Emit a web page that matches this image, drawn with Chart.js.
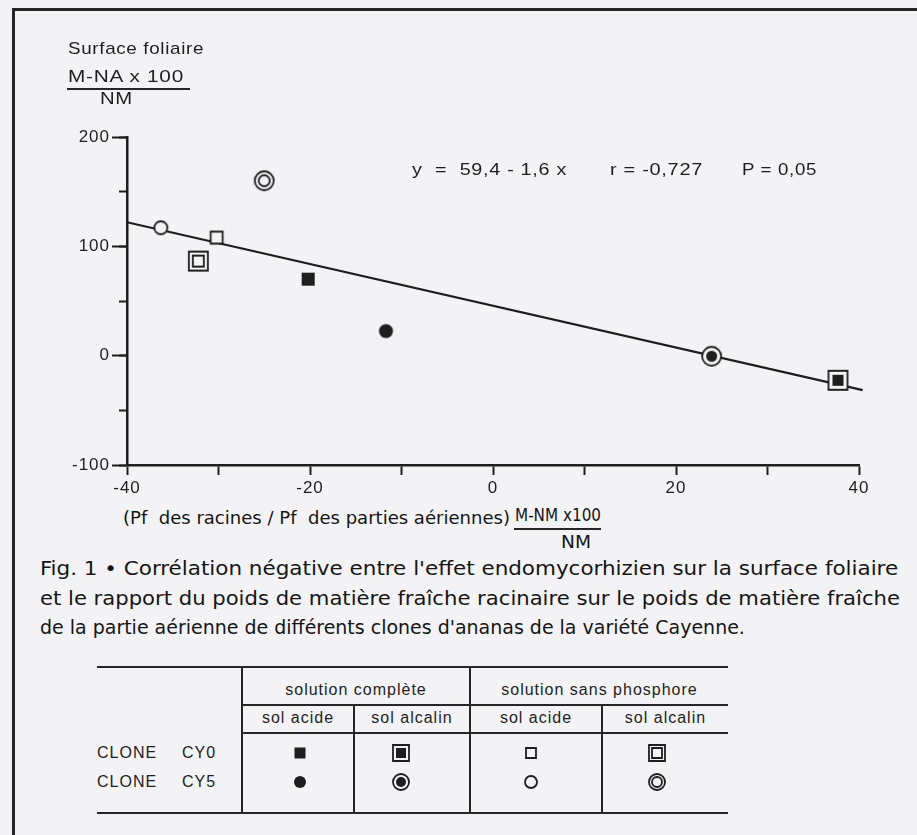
<!DOCTYPE html>
<html lang="fr">
<head>
<meta charset="UTF-8">
<title>Fig. 1 - Surface foliaire et rapport racines / parties aériennes</title>
<script src="https://cdn.jsdelivr.net/npm/chart.js"></script>
<style>
  body { margin: 0; background: #f3f3f5; }
  #page { position: relative; width: 917px; height: 835px; overflow: hidden; background: #f3f3f5; color: #1e1e1e;
          font-family: "Liberation Sans", Arial, sans-serif; }
  .frame { position: absolute; left: 12px; top: 8px; width: 920px; height: 840px; border-left: 3px solid #262626; border-top: 3px solid #262626; }
  .t { position: absolute; white-space: nowrap; line-height: 20px; transform-origin: 0 50%; }
  .wide { font-size: 16px; letter-spacing: 0.6px; }
  .tab { font-size: 16px; letter-spacing: 1px; }
  .narrow { font-family: "Liberation Sans Narrow", "DejaVu Sans Condensed", sans-serif; color: #151515; }
  .ln { position: absolute; background: #262626; }
  .c { text-align: center; }
  #chartBox { position: absolute; left: 0; top: 0; width: 917px; height: 500px; }
  .sym { position: absolute; }
</style>
</head>
<body>
<div id="page">
  <div class="frame"></div>

  <div id="chartBox"><canvas id="chart" width="917" height="500"></canvas></div>

  <!-- titre de l'axe y -->
  <div class="t wide" style="left:68px; top:39px; font-size:17px;" data-w="136">Surface foliaire</div>
  <div class="t wide" style="left:68px; top:67px; font-size:17px;" data-w="116">M-NA x 100</div>
  <div class="ln" style="left:67px; top:88px; width:123px; height:2px;"></div>
  <div class="t wide" style="left:100px; top:89px; font-size:17px;" data-w="33">NM</div>

  <!-- équation -->
  <div class="t wide" style="left:412px; top:160px; font-size:17px;" data-w="155">y&nbsp; =&nbsp; 59,4 - 1,6 x</div>
  <div class="t wide" style="left:610px; top:160px; font-size:17px;" data-w="93">r = -0,727</div>
  <div class="t wide" style="left:742px; top:160px; font-size:17px;" data-w="75">P = 0,05</div>

  <!-- titre de l'axe x -->
  <div class="t narrow" style="left:123px; top:508px; font-size:18px;" data-w="387">(Pf&nbsp; des racines / Pf&nbsp; des parties aériennes)</div>
  <div class="t narrow" style="left:515px; top:505px; font-size:17px;" data-w="86">M-NM x100</div>
  <div class="ln" style="left:514px; top:528px; width:87px; height:1.5px;"></div>
  <div class="t narrow" style="left:561px; top:532px; font-size:18px;" data-w="30">NM</div>

  <!-- légende -->
  <div class="t narrow" style="left:40px; top:558px; font-size:20px;" data-w="858">Fig. 1 • Corrélation négative entre l'effet endomycorhizien sur la surface foliaire</div>
  <div class="t narrow" style="left:40px; top:588px; font-size:20px;" data-w="860">et le rapport du poids de matière fraîche racinaire sur le poids de matière fraîche</div>
  <div class="t narrow" style="left:40px; top:617px; font-size:20px;" data-w="705">de la partie aérienne de différents clones d'ananas de la variété Cayenne.</div>

  <!-- tableau des symboles -->
  <div class="ln" style="left:97px; top:666px; width:631px; height:2px;"></div>
  <div class="ln" style="left:242px; top:704px; width:486px; height:1.5px;"></div>
  <div class="ln" style="left:242px; top:732px; width:486px; height:1.5px;"></div>
  <div class="ln" style="left:97px; top:812px; width:631px; height:2px;"></div>
  <div class="ln" style="left:241px; top:667px; width:2px; height:146px;"></div>
  <div class="ln" style="left:353px; top:705px; width:1.5px; height:108px;"></div>
  <div class="ln" style="left:469px; top:667px; width:2px; height:146px;"></div>
  <div class="ln" style="left:601px; top:705px; width:1.5px; height:108px;"></div>

  <div class="t c tab" style="left:243px; width:226px; top:680px;">solution complète</div>
  <div class="t c tab" style="left:471px; width:257px; top:680px;">solution sans phosphore</div>
  <div class="t c tab" style="left:243px; width:110px; top:708px;">sol acide</div>
  <div class="t c tab" style="left:355px; width:114px; top:708px;">sol alcalin</div>
  <div class="t c tab" style="left:471px; width:130px; top:708px;">sol acide</div>
  <div class="t c tab" style="left:603px; width:125px; top:708px;">sol alcalin</div>
  <div class="t tab" style="left:97px; top:743px;">CLONE</div>
  <div class="t tab" style="left:182px; top:743px;">CY0</div>
  <div class="t tab" style="left:97px; top:772px;">CLONE</div>
  <div class="t tab" style="left:182px; top:772px;">CY5</div>
  <div id="legendSyms"></div>
</div>

<script>
  // clones (lignes du tableau) et traitements (colonnes du tableau)
  const clones = ['CY0', 'CY5'];
  const treatments = [
    'solution complète, sol acide',
    'solution complète, sol alcalin',
    'solution sans phosphore, sol acide',
    'solution sans phosphore, sol alcalin'
  ];

  // x : (Pf racines / Pf parties aériennes) (M-NM)x100/NM
  // y : surface foliaire (M-NA)x100/NM
  const cy0X = [-20.2, 37.7, -30.2, -32.2];
  const cy0Y = [70, -22.5, 108, 86.5];
  const cy5X = [-11.7, 23.9, -36.3, -25.0];
  const cy5Y = [22.5, -0.5, 117, 160];

  // droite de régression telle que tracée
  const fitX = [-40, 40.4];
  const fitY = [122, -31.5];

  const ink = '#1e1e1e';
  const paper = '#f3f3f5';

  // symbole : carré pour CY0, cercle pour CY5 ; traitement -> plein / double plein / vide / double vide
  function makeMarker(shape, treat, big) {
    const outer = big ? 21 : 18;
    const single = shape === 'square' ? (treat === 0 ? (big ? 13 : 11) : (big ? 12 : 10))
                                      : (treat === 0 ? (big ? 14 : 12) : (big ? 13 : 12));
    const inner = big ? 11 : 10;
    const cv = document.createElement('canvas');
    cv.width = outer + 4; cv.height = outer + 4;
    const ctx = cv.getContext('2d');
    const c = cv.width / 2;
    ctx.lineWidth = 1.8;
    ctx.strokeStyle = ink;
    const draw = (size, fill) => {
      ctx.beginPath();
      if (shape === 'square') ctx.rect(c - size / 2, c - size / 2, size, size);
      else ctx.arc(c, c, size / 2, 0, Math.PI * 2);
      ctx.fillStyle = fill ? ink : paper;
      ctx.fill();
      if (!fill) ctx.stroke();
    };
    const doubled = treat === 1 || treat === 3;
    const filled = treat === 0 || treat === 1;
    if (doubled) {
      draw(outer - 2, false);
      draw(inner, filled);
    } else {
      draw(single, filled);
    }
    return cv;
  }

  const datasets = [];
  clones.forEach((clone, ci) => {
    const xs = ci === 0 ? cy0X : cy5X;
    const ys = ci === 0 ? cy0Y : cy5Y;
    treatments.forEach((t, ti) => {
      datasets.push({
        label: 'Clone ' + clone + ' - ' + t,
        data: [{ x: xs[ti], y: ys[ti] }],
        pointStyle: makeMarker(ci === 0 ? 'square' : 'circle', ti, true),
        pointRadius: 10,
        order: 1,
        clip: false
      });
    });
  });
  datasets.push({
    label: 'y = 59,4 - 1,6 x',
    data: fitX.map((x, i) => ({ x: x, y: fitY[i] })),
    showLine: true,
    borderColor: ink,
    borderWidth: 2.2,
    pointRadius: 0,
    order: 2,
    clip: false
  });

  const tickFont = { family: '"Liberation Sans", Arial, sans-serif', size: 17 };

  const spacing = {
    id: 'spacing',
    beforeLayout(chart) { chart.ctx.letterSpacing = '1px'; },
    beforeDraw(chart) { chart.ctx.letterSpacing = '1px'; }
  };

  new Chart(document.getElementById('chart'), {
    type: 'scatter',
    data: { datasets: datasets },
    plugins: [spacing],
    options: {
      responsive: false,
      animation: false,
      devicePixelRatio: 1,
      layout: { padding: { left: 67, right: 58, top: 137, bottom: 0 } },
      plugins: { legend: { display: false }, tooltip: { enabled: false } },
      scales: {
        x: {
          type: 'linear', min: -40, max: 40,
          afterFit: s => { s.height = 35; },
          grid: { drawOnChartArea: false, tickLength: 10, tickWidth: 2, tickColor: ink },
          border: { color: ink, width: 2.5 },
          ticks: { stepSize: 10, autoSkip: false, maxRotation: 0, padding: 3, color: ink, font: tickFont,
                   callback: v => (v % 20 === 0 ? String(v) : '') }
        },
        y: {
          min: -100, max: 200, weight: 1,
          afterFit: s => { s.width = 60; },
          grid: { drawOnChartArea: false, tickLength: 15, tickWidth: 2, tickColor: ink },
          border: { color: ink, width: 2.5 },
          ticks: { stepSize: 100, padding: 2, color: ink, font: tickFont }
        },
        yMinor: {
          position: 'left', min: -100, max: 200, weight: 0,
          afterFit: s => { s.width = 0; },
          grid: { drawOnChartArea: false, tickLength: 8, tickWidth: 2, tickColor: ink },
          border: { display: false },
          ticks: { stepSize: 50, display: false }
        }
      }
    }
  });

  // symboles du tableau
  const colX = [300, 401, 531, 657];
  const rowY = [753, 782];
  const holder = document.getElementById('legendSyms');
  clones.forEach((clone, ci) => {
    treatments.forEach((t, ti) => {
      const cv = makeMarker(ci === 0 ? 'square' : 'circle', ti, false);
      cv.className = 'sym';
      cv.style.left = (colX[ti] - cv.width / 2) + 'px';
      cv.style.top = (rowY[ci] - cv.height / 2) + 'px';
      cv.title = 'Clone ' + clone + ' - ' + t;
      holder.appendChild(cv);
    });
  });

  // ajuste la largeur des textes à celle de la figure
  document.querySelectorAll('[data-w]').forEach(el => {
    const w = el.getBoundingClientRect().width;
    if (w > 0) el.style.transform = 'scaleX(' + (+el.dataset.w / w).toFixed(3) + ')';
  });
</script>
</body>
</html>
